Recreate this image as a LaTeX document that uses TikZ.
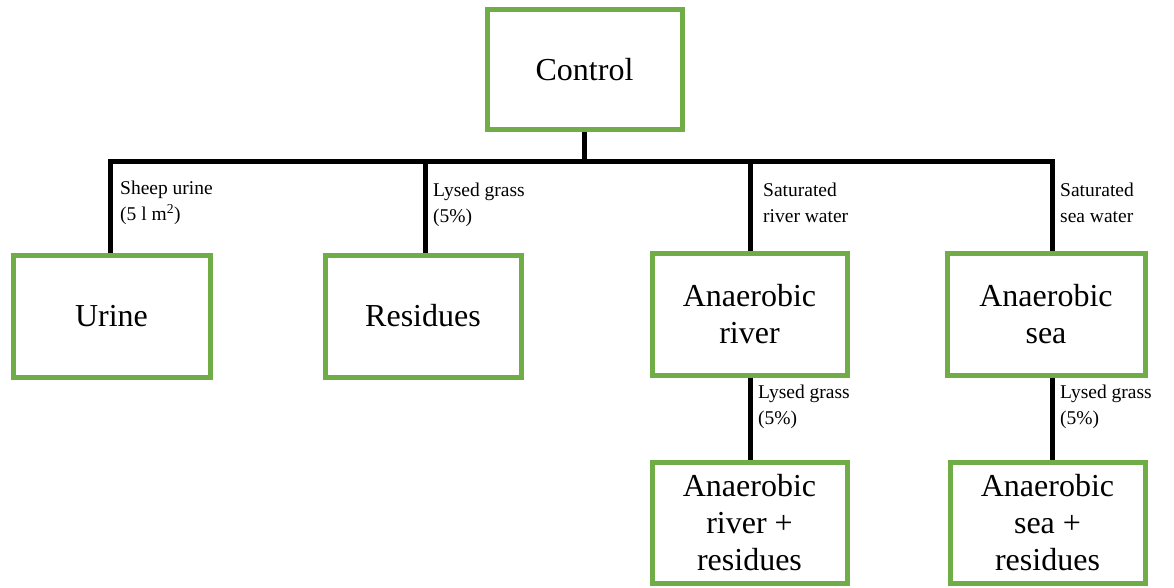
\documentclass[tikz,border=0pt]{standalone}
\usepackage{fontspec}
\setmainfont{LiberationSerif-Regular.ttf}
\definecolor{boxgreen}{HTML}{70AD47}
\begin{document}
\begin{tikzpicture}[x=1pt,y=-1pt,
  box/.style={draw=boxgreen,line width=5pt,fill=white,align=center,
    font=\fontsize{32}{37}\selectfont,inner sep=0pt},
  lbl/.style={anchor=west,align=left,font=\fontsize{19.5}{26}\selectfont,inner sep=0pt},
  link/.style={line width=5pt,black}]
\useasboundingbox (0,0) rectangle (1174,588);
% boxes (centre, size)
\node[box,minimum width=195pt,minimum height=120pt] (control) at (584.5,70) {Control};
\node[box,minimum width=197pt,minimum height=122pt] (urine) at (111.5,316) {Urine};
\node[box,minimum width=196pt,minimum height=122pt] (resid) at (423,316) {Residues};
\node[box,minimum width=195pt,minimum height=122pt] (ariver) at (749.5,314) {Anaerobic\\river};
\node[box,minimum width=198pt,minimum height=122pt] (asea) at (1046,314) {Anaerobic\\sea};
\node[box,minimum width=195pt,minimum height=121pt] (ariverres) at (749.5,522.5) {Anaerobic\\river +\\residues};
\node[box,minimum width=195pt,minimum height=121pt] (asearres) at (1047.5,522.5) {Anaerobic\\sea +\\residues};
% connectors
\coordinate (bar) at (584.5,162);
\coordinate (barL) at (110,162);
\coordinate (barR) at (1052,162);
\draw[link] (control.south) -- (bar);
\draw[link,line cap=rect] (barL) -- (barR);
\draw[link] (barL) -- (barL |- urine.north);
\draw[link] (425,162) -- (425,0 |- resid.north);
\draw[link] (750,162) -- (750,0 |- ariver.north);
\draw[link] (barR) -- (barR |- asea.north);
\draw[link] (ariver.south -| 750,0) -- (750,0 |- ariverres.north);
\draw[link] (1052,0 |- asea.south) -- (1052,0 |- asearres.north);
% labels
\node[lbl] (l1) at (120,203) {Sheep urine\\(5 l m\textsuperscript{2})};
\node[lbl] (l2) at (433,205) {Lysed grass\\(5\%)};
\node[lbl] (l3) at (763,203) {Saturated\\river water};
\node[lbl] (l4) at (1060,203) {Saturated\\sea water};
\node[lbl] (l5) at (758,407) {Lysed grass\\(5\%)};
\node[lbl] (l6) at (1060,407) {Lysed grass\\(5\%)};
\end{tikzpicture}
\end{document}
